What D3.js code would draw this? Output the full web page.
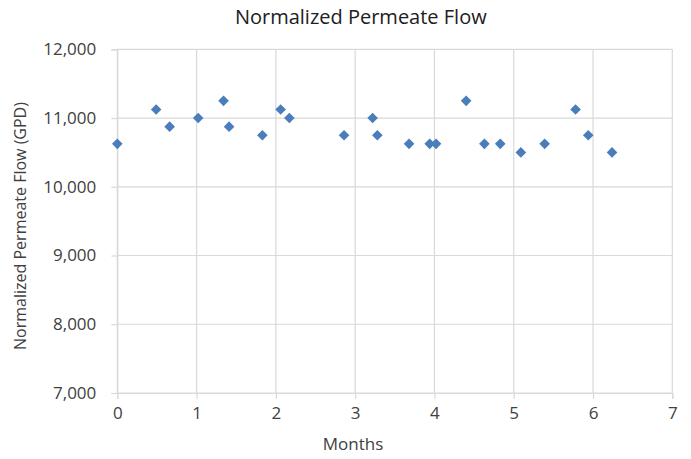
<!DOCTYPE html>
<html><head><meta charset="utf-8">
<script src="https://cdn.jsdelivr.net/npm/d3@7"></script>
<style>html,body{margin:0;padding:0;background:#fff;}svg{display:block;}</style>
</head><body>
<svg id="chart" width="691" height="459"></svg>
<script>
const months = [0, 0.49, 0.66, 1.02, 1.34, 1.41, 1.83, 2.06, 2.17, 2.86, 3.22, 3.28, 3.68, 3.94, 4.02, 4.40, 4.63, 4.83, 5.09, 5.39, 5.78, 5.94, 6.24];
const flow   = [10625, 11125, 10875, 11000, 11250, 10875, 10750, 11125, 11000, 10750, 11000, 10750, 10625, 10625, 10625, 11250, 10625, 10625, 10500, 10625, 11125, 10750, 10500];
const xTicks = [0, 1, 2, 3, 4, 5, 6, 7];
const yTicks = [7000, 8000, 9000, 10000, 11000, 12000];
const title = "Normalized Permeate Flow";
const xTitle = "Months";
const yTitle = "Normalized Permeate Flow (GPD)";

const svg = d3.select("#chart");
const font = "'Open Sans', sans-serif";
const textColor = "#404040";
const gridColor = "#d9d9d9";
const L = 117.3, R = 672.3, T = 49.3, B = 393;

const x = d3.scaleLinear().domain([0, 7]).range([L, R]);
const y = d3.scaleLinear().domain([7000, 12000]).range([B, T]);

// gridlines
svg.append("g").selectAll("line").data(yTicks).join("line")
  .attr("x1", L).attr("x2", R).attr("y1", d => y(d)).attr("y2", d => y(d))
  .attr("stroke", gridColor).attr("stroke-width", 1.2);
svg.append("g").selectAll("line").data(xTicks).join("line")
  .attr("y1", T).attr("y2", B).attr("x1", d => x(d)).attr("x2", d => x(d))
  .attr("stroke", gridColor).attr("stroke-width", 1.2);

// axes
const fmt = d3.format(",");
const yAxis = svg.append("g").attr("transform", `translate(${L},0)`)
  .call(d3.axisLeft(y).tickValues(yTicks).tickFormat(fmt).tickSize(6).tickPadding(15));
const xAxis = svg.append("g").attr("transform", `translate(0,${B})`)
  .call(d3.axisBottom(x).tickValues(xTicks).tickFormat(d3.format("d")).tickSize(6).tickPadding(8));
[yAxis, xAxis].forEach(a => {
  a.select(".domain").attr("stroke", gridColor).attr("stroke-width", 1.2);
  a.selectAll(".tick line").attr("stroke", gridColor).attr("stroke-width", 1.2);
  a.selectAll("text").attr("font-family", font).attr("font-size", 17).attr("fill", textColor);
});

// points
const diamond = d3.symbol().type(d3.symbolDiamond2).size(72);
svg.append("g").selectAll("path").data(months.map((m, i) => [m, flow[i]])).join("path")
  .attr("d", diamond)
  .attr("transform", d => `translate(${x(d[0])},${y(d[1])})`)
  .attr("fill", "#4a7ebb");

// titles
svg.append("text").attr("x", 360.8).attr("y", 24).attr("text-anchor", "middle")
  .attr("font-family", font).attr("font-size", 20).attr("fill", "#202020").text(title);
svg.append("text").attr("x", 353).attr("y", 450).attr("text-anchor", "middle")
  .attr("font-family", font).attr("font-size", 17).attr("fill", textColor).text(xTitle);
svg.append("text").attr("transform", `translate(26,226) rotate(-90)`).attr("text-anchor", "middle")
  .attr("font-family", font).attr("font-size", 16).attr("fill", textColor).text(yTitle);
</script>
</body></html>
